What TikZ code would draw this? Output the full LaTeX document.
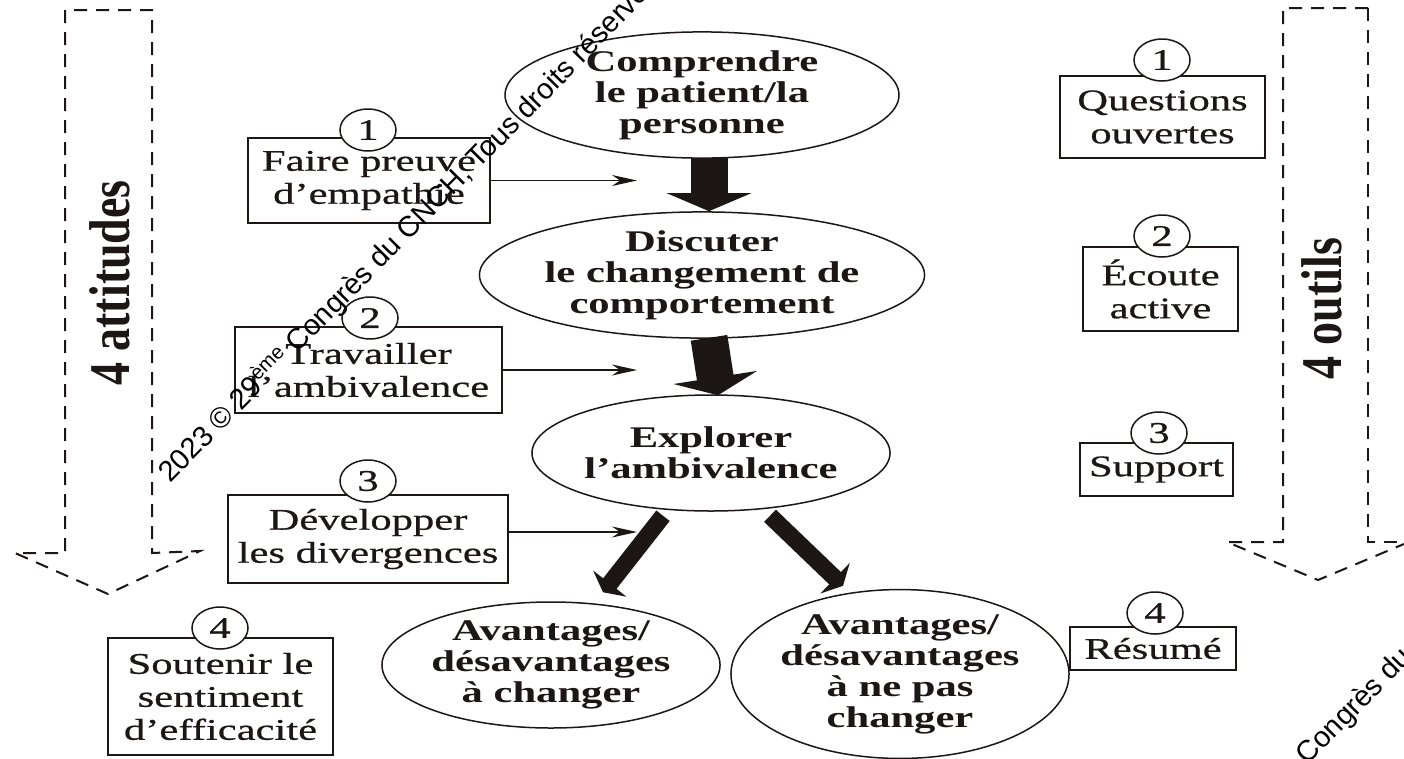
\documentclass[tikz,border=0pt]{standalone}
\usepackage{fontspec}
\usepackage{graphicx}
\setmainfont{Liberation Serif}[FakeStretch=1.42, UprightFeatures={FakeBold=0.6}]
\newfontfamily\uprightserif{Liberation Serif}
\newfontfamily\marksans{Liberation Sans}
\usetikzlibrary{shapes.geometric,arrows.meta,calc}
\definecolor{ink}{RGB}{28,22,20}

\begin{document}
\begin{tikzpicture}[x=1pt,y=-1pt,
  every node/.style={text=ink},
  box/.style={draw=ink, line width=1.5pt, align=center, inner sep=0pt,
    font=\fontsize{30}{33}\selectfont},
  tag/.style={draw=ink, fill=white, ellipse, line width=1.5pt,
    minimum width=56pt, minimum height=42pt, inner sep=0pt,
    font=\fontsize{30}{33}\selectfont},
  stage/.style={draw=ink, ellipse, line width=1.5pt, align=center, inner sep=0pt,
    font=\fontsize{30}{31}\selectfont\bfseries},
  bigarrow/.style={draw=ink, line width=37pt, -{Triangle[width=84pt,length=18pt]}},
  slantarrow/.style={draw=ink, line width=17pt, -{Triangle[width=42pt,length=11pt]}},
  hint/.style={draw=ink, line width=1.5pt, -{Stealth[length=25pt,width=11pt,inset=8pt]}},
  sidearrow/.style={draw=ink, line width=2pt, dash pattern=on 13pt off 9pt},
  sidelabel/.style={rotate=90, inner sep=0pt,
    font=\uprightserif\fontsize{46}{46}\selectfont\bfseries},
  rightsline/.style={anchor=base west, inner sep=0pt, text=black, rotate=45.5,
    font=\marksans\fontsize{29}{29}\selectfont}
]
\fill[white] (0,0) rectangle (1404,758);
\useasboundingbox (0,0) rectangle (1404,758);

% ---- dashed side arrows ----
\draw[sidearrow] (65,10) -- (65,553) -- (15,553) -- (108,594) -- (200,551)
  -- (152,553) -- (152,10) -- cycle;
\node[sidelabel] (attitudes) at (110,283) {\scalebox{1}[1.25]{4 attitudes}};

\draw[sidearrow] (1368,8) -- (1283,8) -- (1283,542) -- (1227,542) -- (1318,580) -- (1404,544);
\draw[sidearrow] (1368,8) -- (1368,542) -- (1404,542);
\node[sidelabel] (outils) at (1322,309) {\scalebox{1}[1.25]{4 outils}};

% ---- central stages ----
\node[stage, minimum width=394pt, minimum height=120pt] (understand) at (702,95)
  {Comprendre\\le patient/la\\personne};
\node[stage, minimum width=390pt, minimum height=120pt] (discuss) at (702,275)
  {Discuter\\le changement de\\comportement};
\node[stage, minimum width=316pt, minimum height=116pt] (explore) at (711,453)
  {Explorer\\l’ambivalence};
\node[stage, minimum width=314pt, minimum height=126pt] (change) at (551,665)
  {Avantages/\\désavantages\\à changer};
\node[stage, minimum width=314pt, minimum height=162pt] (keep) at (900,674)
  {Avantages/\\désavantages\\à ne pas\\changer};

\draw[bigarrow] ([xshift=7pt,yshift=1pt]understand.south) -- ([xshift=7pt]discuss.north);
\draw[bigarrow] ([xshift=7pt,yshift=1pt]discuss.south) -- ([xshift=7pt,yshift=-1pt]explore.north);
\draw[slantarrow] ($(explore.south)+(-48,4)$) -- ($(change.north)+(52,-9)$);
\draw[slantarrow] ($(explore.south)+(59,4)$) -- ($(keep.north)+(-57,-3)$);

% ---- attitudes (left) ----
\node[box, minimum width=242pt, minimum height=85pt] (empathy) at (369,180.5)
  {Faire preuve\\d’empathie};
\node[box, minimum width=267pt, minimum height=86pt] (work) at (368.5,370)
  {Travailler\\l’ambivalence};
\node[box, minimum width=280pt, minimum height=88pt] (diverge) at (368,539)
  {Développer\\les divergences};
\node[box, minimum width=225pt, minimum height=117pt] (efficacy) at (220.5,696.5)
  {Soutenir le\\sentiment\\d’efficacité};

\node[tag] (a1) at (368,130) {1};
\node[tag] (a2) at (370,318) {2};
\node[tag] (a3) at (368,481) {3};
\node[tag] (a4) at (220,628) {4};

\coordinate (h1) at (637,180.5);
\coordinate (h2) at (637,370);
\coordinate (h3) at (637,532);
\draw[hint] (empathy.east) -- (h1);
\draw[hint] (work.east) -- (h2);
\draw[hint] (diverge.east |- h3) -- (h3);

% ---- tools (right) ----
\node[box, minimum width=205pt, minimum height=82pt] (questions) at (1162.5,117)
  {Questions\\ouvertes};
\node[box, minimum width=155pt, minimum height=84pt] (listen) at (1160.5,289)
  {Écoute\\active};
\node[box, minimum width=153pt, minimum height=53pt] (support) at (1156.5,469.5)
  {Support};
\node[box, minimum width=166pt, minimum height=43pt] (summary) at (1153,648.5)
  {Résumé};

\node[tag] (t1) at (1162,60) {1};
\node[tag] (t2) at (1162,236) {2};
\node[tag] (t3) at (1159,433) {3};
\node[tag] (t4) at (1155,613) {4};

% ---- copyright line ----
\begin{scope}
\clip (0,0) rectangle (1404,758);
\node[rightsline] (rights) at (170,484)
  {2023 © 29\textsuperscript{ème} Congrès du CNCH, Tous droits réservés};
\node[rightsline] (rights2) at (1180,896)
  {2023 © 29\textsuperscript{ème} Congrès du CNCH, Tous droits réservés};
\end{scope}
\end{tikzpicture}
\end{document}
